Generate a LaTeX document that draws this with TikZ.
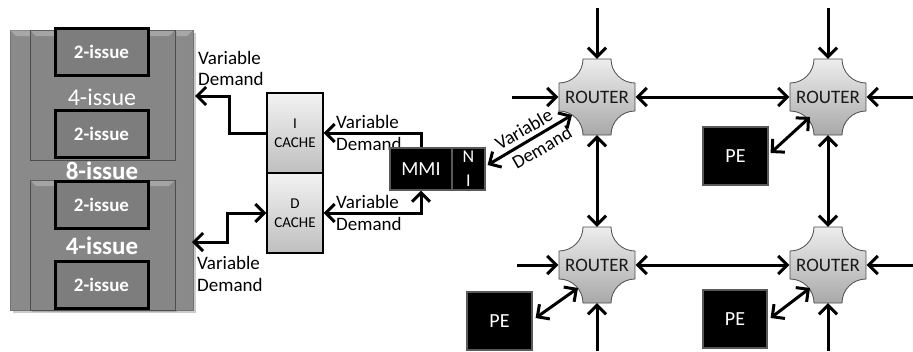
\documentclass[tikz,border=0pt]{standalone}
\usepackage{fontspec}
\setmainfont{Carlito}
\usetikzlibrary{arrows.meta,calc}
\definecolor{coreg}{HTML}{8A8A8A}
\definecolor{innerg}{HTML}{868686}
\definecolor{twog}{HTML}{7D7D7D}
\newcommand{\routershape}[2]{%
  \shade[top color=white!93!black, bottom color=white!66!black, draw=black!70, line width=0.8pt]
  (#1-14,#2-38) -- (#1+14,#2-38) arc[start angle=180,end angle=90,radius=24]
  -- (#1+38,#2+14) arc[start angle=270,end angle=180,radius=24]
  -- (#1-14,#2+38) arc[start angle=0,end angle=-90,radius=24]
  -- (#1-38,#2-14) arc[start angle=90,end angle=0,radius=24] -- cycle;}
\begin{document}
\begin{tikzpicture}[x=1pt,y=-1pt,
  tipb/.tip={Straight Barb[length=9pt,width=18pt]},
  conn/.style={line width=3pt,-tipb},
  dconn/.style={line width=3pt,tipb-tipb},
  lbl/.style={font=\fontsize{19}{21.5}\selectfont, align=left, inner sep=0pt, text=black},
  corebox/.style={fill=coreg, draw=black!55, line width=0.8pt, inner sep=0pt},
  fourbox/.style={fill=innerg, draw=black!70, line width=0.9pt, inner sep=0pt},
  twobox/.style={fill=twog, draw=black, line width=3pt, inner sep=0pt, minimum width=93, minimum height=47,
     text=white, font=\fontsize{19}{22}\selectfont\bfseries},
  cachebox/.style={top color=white!95!black, bottom color=white!75!black, draw=black, line width=1.1pt,
     minimum width=56, minimum height=80, inner sep=0pt, align=center, font=\fontsize{15}{19}\selectfont},
  blackbox/.style={fill=black, draw=black!65, line width=1.2pt, inner sep=0pt, text=white,
     font=\fontsize{20}{24}\selectfont},
  rtr/.style={minimum width=77, minimum height=76, inner sep=0pt, text=black!90,
     font=\fontsize{19}{21}\selectfont},
  whitetxt/.style={text=white, inner sep=0pt}]
\useasboundingbox (0,0) rectangle (913,351);

% ---------- core (8-issue) ----------
\fill[black!40, opacity=0.5] (13,33) rectangle (196,313);
\node[corebox, minimum width=183, minimum height=280, anchor=north west] (core) at (10,30) {};
\fill[white, opacity=0.25] (10.4,30.4) -- (192.6,30.4) -- (187,36) -- (16,36) -- cycle;
\fill[black!45, opacity=0.5] (32,32) rectangle (177,162);
\fill[black!45, opacity=0.5] (32,182) rectangle (177,312);
\node[fourbox, minimum width=145, minimum height=130, anchor=north west] (four1) at (30,30) {};
\node[fourbox, minimum width=145, minimum height=130, anchor=north west] (four2) at (30,180) {};
\fill[white, opacity=0.25] (30.5,30.5) -- (174.5,30.5) -- (169,36) -- (36,36) -- cycle;
\fill[white, opacity=0.25] (30.5,180.5) -- (174.5,180.5) -- (169,186) -- (36,186) -- cycle;
\node[twobox] (two1) at (101.5,51.5) {2-issue};
\node[twobox] (two2) at (101.5,133.5) {2-issue};
\node[twobox] (two3) at (101.5,205) {2-issue};
\node[twobox] (two4) at (101.5,284.5) {2-issue};
\node[whitetxt, font=\fontsize{24}{26}\selectfont] (t4a) at (102,97) {4-issue};
\node[whitetxt, font=\fontsize{25}{27}\selectfont\bfseries] (t8) at (102,171) {8-issue};
\node[whitetxt, font=\fontsize{25}{27}\selectfont\bfseries] (t4b) at (102,246) {4-issue};

% ---------- caches ----------
\node[cachebox] (icache) at (295,133) {I\\CACHE};
\node[cachebox] (dcache) at (295,213) {D\\CACHE};

% ---------- labels near caches ----------
\node[lbl, anchor=west] (lab1) at (198,68.5) {Variable\\Demand};
\node[lbl, anchor=west] (lab2) at (336,133) {Variable\\Demand};
\node[lbl, anchor=west] (lab3) at (336,213) {Variable\\Demand};
\node[lbl, anchor=west] (lab4) at (197,274) {Variable\\Demand};

% ---------- MMI / NI ----------
\node[blackbox, minimum width=62, minimum height=42] (mmi) at (421,169) {MMI};
\node[blackbox, minimum width=33, minimum height=42, align=center, font=\fontsize{18}{24}\selectfont] (ni) at (468.5,169) {N\\I};

% ---------- cache connectors ----------
\coordinate (c1) at (195,96);
\coordinate (c2) at (192,242);
\draw[conn] (icache.west) -- ++(-37,0) |- (c1);
\draw[dconn] (dcache.west) -- ++(-39,0) |- (c2);
\draw[conn] (mmi.north) |- (icache.east);
\draw[dconn] (dcache.east) -| (mmi.south);

% ---------- routers ----------
\routershape{597}{97}
\routershape{828}{97}
\routershape{597}{265}
\routershape{828}{265}
\node[rtr] (r1) at (597,97) {ROUTER};
\node[rtr] (r2) at (828,97) {ROUTER};
\node[rtr] (r3) at (597,265) {ROUTER};
\node[rtr] (r4) at (828,265) {ROUTER};

% ---------- PEs ----------
\node[blackbox, minimum width=65, minimum height=58] (pe2) at (735.5,156) {PE};
\node[blackbox, minimum width=65, minimum height=58] (pe3) at (499.5,321) {PE};
\node[blackbox, minimum width=64, minimum height=58] (pe4) at (735,319) {PE};

% ---------- router connectors ----------
\coordinate (t1) at (597,8);
\coordinate (t2) at (828,8);
\coordinate (l1) at (512,97);
\coordinate (l3) at (517,265);
\coordinate (e2) at (913,97);
\coordinate (e4) at (913,265);
\coordinate (b3) at (597,351);
\coordinate (b4) at (828,351);
\draw[conn] (t1) -- (r1.north);
\draw[conn] (t2) -- (r2.north);
\draw[conn] (l1) -- (r1.west);
\draw[conn] (l3) -- (r3.west);
\draw[conn] (e2) -- (r2.east);
\draw[conn] (e4) -- (r4.east);
\draw[conn] (b3) -- (r3.south);
\draw[conn] (b4) -- (r4.south);
\draw[dconn] (r1.east) -- (r2.west);
\draw[dconn] (r3.east) -- (r4.west);
\draw[dconn] (r1.south) -- (r3.north);
\draw[dconn] (r2.south) -- (r4.north);

\coordinate (r1in) at ($(r1.center)+(-25,18)$);
\coordinate (r2in) at ($(r2.center)+(-18,20)$);
\coordinate (r3in) at ($(r3.center)+(-19,23)$);
\coordinate (r4in) at ($(r4.center)+(-18,23)$);
\draw[dconn] ($(ni.east)+(2,-4)$) -- (r1in);
\draw[dconn] ($(pe2.east)+(2,-3)$) -- (r2in);
\draw[dconn] ($(pe3.east)+(3,-3)$) -- (r3in);
\draw[dconn] ($(pe4.east)+(3,-1)$) -- (r4in);

\node[lbl, align=center, rotate=30, font=\fontsize{19}{25}\selectfont] (lab5) at (530,140) {Variable\\\hspace*{13pt}Demand};
\end{tikzpicture}
\end{document}
